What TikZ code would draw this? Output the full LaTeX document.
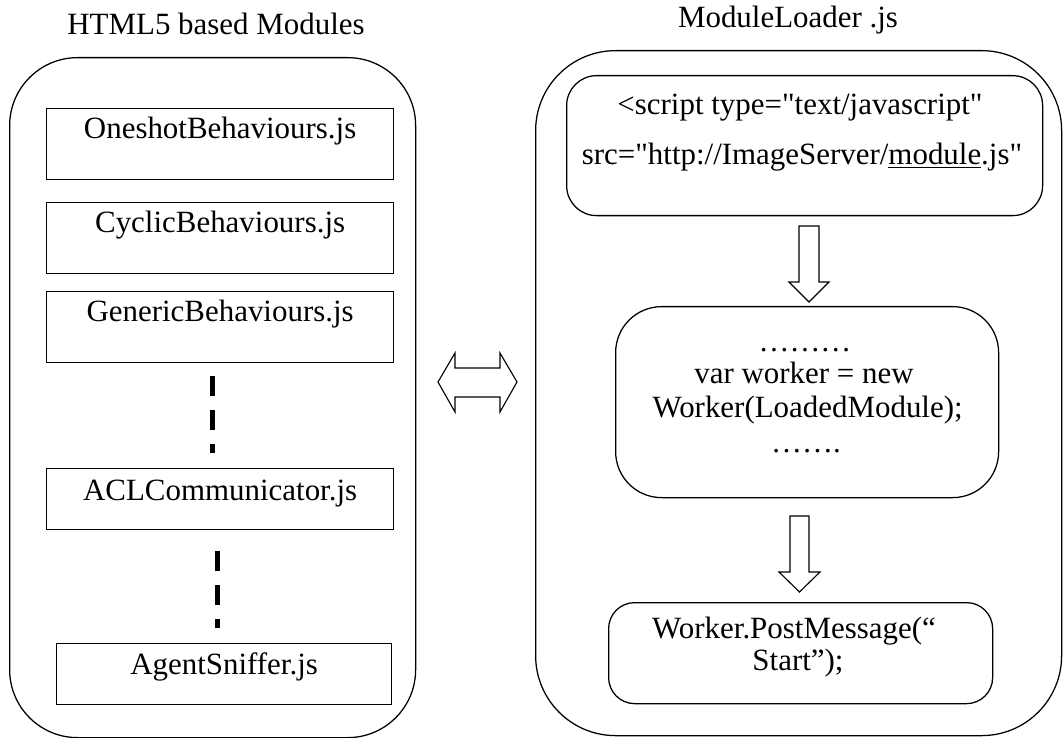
\documentclass[tikz,border=0pt]{standalone}
\usepackage{fontspec}
\setmainfont{Liberation Serif}[Ligatures=TeXOff]

\tikzset{
  bigbox/.style={draw, line width=0.9pt, inner sep=0pt, anchor=north west},
  modbox/.style={draw, line width=0.9pt, inner sep=0pt, minimum width=8.675cm, anchor=north west},
  tallbox/.style={modbox, text height=0.75cm, text depth=1.025cm},
  flatbox/.style={modbox, text height=0.8cm, text depth=0.725cm},
  codebox/.style={draw, line width=0.9pt, inner sep=0pt, anchor=north west},
  codeline/.style={anchor=base, inner sep=0pt},
  dashline/.style={line width=3.5pt, dash pattern=on 0.5cm off 0.35cm},
  blockarrow/.style={draw, line width=0.8pt, line join=miter}
}

\begin{document}
\begin{tikzpicture}[every node/.style={font=\fontsize{22}{26}\selectfont}]
			\useasboundingbox (0,0) rectangle (26.6,-18.45);
			
			% Containers
			\node[bigbox, minimum width=10.15cm, minimum height=17cm, rounded corners=1.7cm] (modules) at (0.225,-1.425) {};
			\node[bigbox, minimum width=13.15cm, minimum height=17.125cm, rounded corners=2cm] (loader) at (13.375,-1.25) {};
			\node[anchor=base] (modtitle) at (5.4,-0.875) {HTML5 based Modules};
			\node[anchor=base] (loadtitle) at (19.7,-0.7) {ModuleLoader .js};
			
			% Modules
			\node[tallbox] (oneshot) at (1.15,-2.7) {OneshotBehaviours.js};
			\node[tallbox] (cyclic) at (1.15,-5.05) {CyclicBehaviours.js};
			\node[tallbox] (generic) at (1.15,-7.275) {GenericBehaviours.js};
			\node[flatbox] (acl) at (1.15,-11.7) {ACLCommunicator.js};
			\node[flatbox, minimum width=8.375cm, text height=0.775cm, text depth=0.75cm] (sniffer) at (1.4,-16.075) {AgentSniffer.js};
			
			\draw[dashline] ([xshift=-0.19cm,yshift=-0.325cm]generic.south) -- ([xshift=-0.19cm,yshift=0.375cm]acl.north);
			\draw[dashline] ([xshift=-0.0625cm,yshift=-0.525cm]acl.south) -- ([xshift=-0.0625cm,yshift=0.375cm]acl.south |- sniffer.north);
			
			% Loader
			\node[codebox, minimum width=11.9cm, minimum height=3.5cm, rounded corners=0.75cm] (script) at (14.15,-1.875) {};
			\node[codeline] (scriptA) at (20.0,-2.875) {<script type="text/javascript"};
			\node[codeline] (scriptB) at (20.05,-4.125) {src="http://ImageServer/\underline{module}.js"};
			
			\node[codebox, minimum width=9.575cm, minimum height=4.775cm, rounded corners=1.15cm] (worker) at (15.375,-7.65) {};
			\node[codeline] (workerA) at (20.125,-8.8) {………};
			\node[codeline] (workerB) at (20.1,-9.575) {var worker = new};
			\node[codeline] (workerC) at (20.19,-10.45) {Worker(LoadedModule);};
			\node[codeline] (workerD) at (20.15,-11.3) {…….};
			
			\node[codebox, minimum width=9.6cm, minimum height=2.525cm, rounded corners=0.65cm] (post) at (15.2,-15.05) {};
			\node[codeline] (postA) at (19.85,-15.95) {Worker.PostMessage(“};
			\node[codeline] (postB) at (19.95,-16.75) {Start”);};
			
			% Arrows
			\draw[blockarrow] (19.975,-5.65) -- (20.475,-5.65) -- (20.475,-7.05) -- (20.725,-7.05) -- (20.225,-7.55) -- (19.725,-7.05) -- (19.975,-7.05) -- cycle;
			\draw[blockarrow] (19.75,-12.9) -- (20.225,-12.9) -- (20.225,-14.3) -- (20.5,-14.3) -- (19.9875,-14.8) -- (19.475,-14.3) -- (19.75,-14.3) -- cycle;
			\draw[blockarrow] (10.95,-9.55) -- (11.375,-8.825) -- (11.375,-9.2) -- (12.5,-9.2) -- (12.5,-8.825) -- (12.925,-9.55) -- (12.5,-10.3) -- (12.5,-9.925) -- (11.375,-9.925) -- (11.375,-10.3) -- cycle;
		\end{tikzpicture}
\end{document}
